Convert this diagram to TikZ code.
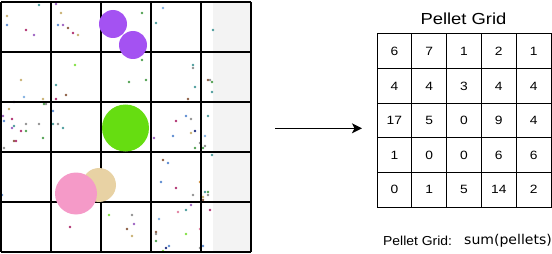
\documentclass[tikz,border=0pt]{standalone}
\usepackage{fontspec}
\setmainfont{Liberation Sans}
\newfontfamily\dejavu{DejaVu Sans}
\usetikzlibrary{arrows.meta}
\definecolor{pteal}{HTML}{4A9A9A}
\definecolor{ptan}{HTML}{C8B070}
\definecolor{pblue}{HTML}{5A8AD0}
\definecolor{pmag}{HTML}{B03070}
\definecolor{ppur}{HTML}{9A60C0}
\definecolor{pbrown}{HTML}{8A5A40}
\definecolor{pgreen}{HTML}{50A050}
\definecolor{pgray}{HTML}{909090}
\definecolor{plime}{HTML}{80E040}
\definecolor{pnavy}{HTML}{203080}
\definecolor{porange}{HTML}{D09040}
\definecolor{ppink}{HTML}{E080A0}
\definecolor{plblue}{HTML}{80B0E0}
\definecolor{bigpurple}{HTML}{A452F2}
\definecolor{biggreen}{HTML}{66DD11}
\definecolor{bigpink}{HTML}{F59AC8}
\definecolor{bigtan}{HTML}{E8D2A4}
\definecolor{stripgray}{HTML}{F3F3F3}
\tikzset{
  gridline/.style={line width=1.5pt, black},
  cell/.style={draw=black, line width=1pt, minimum width=34.8pt, minimum height=34.6pt, inner sep=0pt,
    font=\fontsize{12}{14}\selectfont},
  pellet/.style={circle, inner sep=0pt, minimum size=2.9pt},
  bigcirc/.style={circle, inner sep=0pt},
  conn/.style={line width=1.3pt, -{Stealth[length=10pt,width=10pt,inset=2.5pt]}},
  lbl/.style={inner sep=0pt, anchor=base west}
}
\newcommand{\wide}[2]{\scalebox{#1}[1]{#2}}
\begin{document}
\begin{tikzpicture}[x=1pt,y=-1pt]
\useasboundingbox (0,0) rectangle (552,254);
% shaded strip
\fill[stripgray] (213,2) rectangle (251,252);
% pellets
\foreach \px/\py/\pc in {39/5/pteal,7/16/ptan,7/25/pblue,26/30/pmag,34/35/ppur,
  56/4/ppur,61/13/ptan,58/25/pblue,63/25/ppur,68/28/pbrown,73/33/pmag,78/35/ptan,
  75/65/plime,21/80/ptan,24/97/plblue,14/102/ppur,43/99/ptan,56/85/pteal,66/95/pbrown,56/99/pmag,44/104/pgreen,46/104/pgray,
  129/82/pgreen,9/109/ptan,12/119/pmag,3/116/ppur,14/126/pteal,26/124/pgray,39/124/pgray,53/111/pblue,53/124/pteal,58/124/pgray,63/128/pteal,
  4/121/pblue,12/128/ppur,21/131/pmag,26/131/pgreen,43/138/pgreen,14/141/pbrown,16/141/pmag,4/148/pgray,
  2/195/pblue,109/215/plime,70/227/pmag,127/229/pbrown,
  163/8/plblue,156/23/pteal,142/13/pgreen,213/30/pteal,142/60/pgreen,146/80/pgreen,193/65/pteal,193/68/pgray,195/87/pteal,188/99/pbrown,
  208/80/pbrown,210/80/pgray,212/82/pgreen,212/92/pteal,186/116/pblue,176/121/pmag,191/119/pgray,208/116/pteal,
  154/138/ppur,173/136/pblue,191/133/ptan,195/131/pnavy,205/136/plblue,205/146/pgray,200/143/pgray,195/148/pgreen,203/148/pgreen,
  212/155/pteal,163/160/pbrown,168/163/pblue,161/182/pblue,176/188/pmag,200/182/porange,193/195/pgray,205/192/pteal,208/192/pgreen,
  208/195/pgray,203/197/ptan,203/200/pbrown,191/205/ppur,186/210/pteal,178/212/ppink,210/210/pmag,132/215/pgray,134/224/ppur,
  132/236/ptan,159/219/plblue,156/232/pbrown,156/234/pgray,156/241/pgreen,186/234/plime,169/246/pblue,166/248/pnavy,
  163/251/plime,200/229/ppink,203/246/pblue,200/248/pgray}
  \node[pellet, fill=\pc] at (\px,\py) {};
% grid lines
\foreach \g in {1,51,101,151,201,251} {
  \draw[gridline] (\g,2) -- (\g,252);
}
\foreach \g in {2,52,102,152,202,252} {
  \draw[gridline] (1,\g) -- (251,\g);
}
% big circles
\node[bigcirc, fill=bigpurple, minimum size=28pt] (purpleA) at (113,24) {};
\node[bigcirc, fill=bigpurple, minimum size=28pt] (purpleB) at (133,45) {};
\node[bigcirc, fill=biggreen, minimum size=47pt] (greenC) at (125.5,128) {};
\node[bigcirc, fill=bigtan, minimum size=34pt] (tanC) at (99,185) {};
\node[bigcirc, fill=bigpink, minimum size=42pt] (pinkC) at (76,193.5) {};
% arrow
\coordinate (arrowstart) at (275,128.3);
\coordinate (arrowend) at (362,128.3);
\draw[conn] (arrowstart) -- (arrowend);
% title
\node[inner sep=0pt, font=\fontsize{16}{18}\selectfont] (title) at (463.5,18.5) {\wide{1.15}{Pellet Grid}};
% pellet grid cells
\foreach \row/\vals in {1/{6,7,1,2,1},2/{4,4,3,4,4},3/{17,5,0,9,4},4/{1,0,0,6,6},5/{0,1,5,14,2}} {
  \foreach \v [count=\col] in \vals {
    \node[cell] (c\row\col) at ({377+34.8*(\col-0.5)},{34+34.6*(\row-0.5)}) {\wide{1.15}{\v}};
  }
}
% caption
\node[lbl, font=\fontsize{13}{15}\selectfont] (cap1) at (383,245) {\wide{1.07}{Pellet Grid:}};
\node[lbl, font=\dejavu\fontsize{13.5}{15}\selectfont] (cap2) at (464,244.5) {\wide{1.04}{sum(pellets)}};
\end{tikzpicture}
\end{document}
